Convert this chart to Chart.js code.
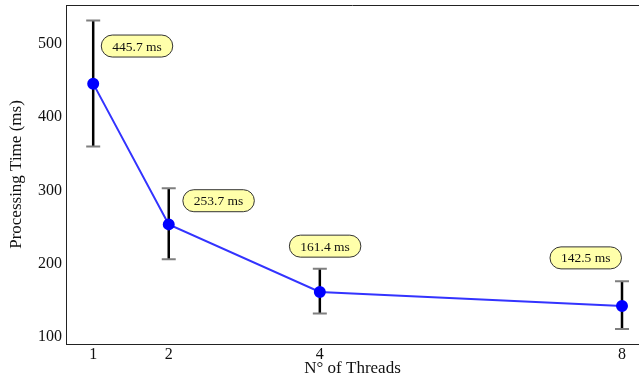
<!DOCTYPE html>
<html>
<head>
<meta charset="utf-8">
<script src="https://cdn.jsdelivr.net/npm/chart.js@4.4.0/dist/chart.umd.min.js"></script>
<style>
  html, body { margin: 0; padding: 0; background: #fff; overflow: hidden; }
  #wrap { width: 639px; height: 379px; }
</style>
</head>
<body>
<div id="wrap"><canvas id="chart"></canvas></div>
<script>
// threads vs. mean processing time, with spread
const threads = [1, 2, 4, 8];
const meanMs = [445.7, 253.7, 161.4, 142.5];
const errLow = [360, 206, 132, 111];
const errHigh = [532, 303, 193, 176];
const labelX = [1.58, 2.66, 4.07, 7.52];
const labelY = [497, 286, 224, 208];
const xTicks = [1, 2, 4, 8];
const yTicks = [100, 200, 300, 400, 500];

const serif = '"Liberation Serif", "DejaVu Serif", serif';

// vertical error bars with grey caps
const errorBars = {
  id: 'errorBars',
  beforeDatasetsDraw(chart) {
    const { ctx, scales: { x, y } } = chart;
    ctx.save();
    threads.forEach((t, i) => {
      const px = x.getPixelForValue(t);
      const top = y.getPixelForValue(errHigh[i]);
      const bot = y.getPixelForValue(errLow[i]);
      ctx.strokeStyle = '#000';
      ctx.lineWidth = 2.5;
      ctx.beginPath();
      ctx.moveTo(px, top);
      ctx.lineTo(px, bot);
      ctx.stroke();
      ctx.strokeStyle = '#7f7f7f';
      ctx.lineWidth = 2;
      ctx.beginPath();
      ctx.moveTo(px - 7, top);
      ctx.lineTo(px + 7, top);
      ctx.moveTo(px - 7, bot);
      ctx.lineTo(px + 7, bot);
      ctx.stroke();
    });
    ctx.restore();
  }
};

// rounded value labels + top frame line
const valueLabels = {
  id: 'valueLabels',
  afterDatasetsDraw(chart) {
    const { ctx, chartArea, scales: { x, y } } = chart;
    ctx.save();
    ctx.strokeStyle = '#222';
    ctx.lineWidth = 1;
    ctx.beginPath();
    ctx.moveTo(chartArea.left, chartArea.top + 0.5);
    ctx.lineTo(chartArea.right, chartArea.top + 0.5);
    ctx.stroke();

    ctx.font = '13.5px ' + serif;
    ctx.textAlign = 'center';
    ctx.textBaseline = 'middle';
    meanMs.forEach((v, i) => {
      const cx = x.getPixelForValue(labelX[i]);
      const cy = y.getPixelForValue(labelY[i]);
      const text = v.toFixed(1) + ' ms';
      const w = ctx.measureText(text).width + 22;
      const h = 22;
      ctx.beginPath();
      ctx.roundRect(cx - w / 2, cy - h / 2, w, h, h / 2);
      ctx.fillStyle = '#ffffaa';
      ctx.fill();
      ctx.strokeStyle = '#333';
      ctx.lineWidth = 1;
      ctx.stroke();
      ctx.fillStyle = '#111';
      ctx.fillText(text, cx, cy + 1);
    });
    ctx.restore();
  }
};

// fixed axis sizes, no extra padding for overflowing tick labels
function fitBox(s, size) {
  if (s.isHorizontal()) s.height = size; else s.width = size;
  s.paddingTop = 0;
  s.paddingBottom = 0;
  s.paddingLeft = 0;
  s.paddingRight = 0;
}

new Chart(document.getElementById('chart'), {
  type: 'line',
  data: {
    datasets: [{
      data: threads.map((t, i) => ({ x: t, y: meanMs[i] })),
      borderColor: '#3333ff',
      borderWidth: 2,
      pointBackgroundColor: '#0000ff',
      pointBorderColor: '#0000ff',
      pointRadius: 5,
      tension: 0
    }]
  },
  options: {
    responsive: true,
    maintainAspectRatio: false,
    animation: false,
    layout: { autoPadding: false, padding: { top: 5, right: 0, left: 0, bottom: 0 } },
    plugins: { legend: { display: false }, tooltip: { enabled: false } },
    scales: {
      x: {
        type: 'linear',
        min: 0.64,
        max: 8.225,
        afterBuildTicks: s => { s.ticks = xTicks.map(v => ({ value: v })); },
        afterFit: s => fitBox(s, 35),
        grid: { display: false, drawTicks: false },
        border: { color: '#222', width: 1 },
        ticks: { color: '#111', font: { family: serif, size: 16 }, padding: 1 },
        title: {
          display: true,
          text: 'N° of Threads',
          color: '#111',
          font: { family: serif, size: 17 },
          padding: { top: -3, bottom: 0 }
        }
      },
      y: {
        min: 90.5,
        max: 553,
        afterBuildTicks: s => { s.ticks = yTicks.map(v => ({ value: v })); },
        afterFit: s => fitBox(s, 66),
        grid: { display: false, drawTicks: false },
        border: { color: '#222', width: 1 },
        ticks: { color: '#111', font: { family: serif, size: 16 }, padding: 4 },
        title: {
          display: true,
          text: 'Processing Time (ms)',
          color: '#111',
          font: { family: serif, size: 17 },
          padding: { top: 6, bottom: 0 }
        }
      }
    }
  },
  plugins: [errorBars, valueLabels]
});
</script>
</body>
</html>
